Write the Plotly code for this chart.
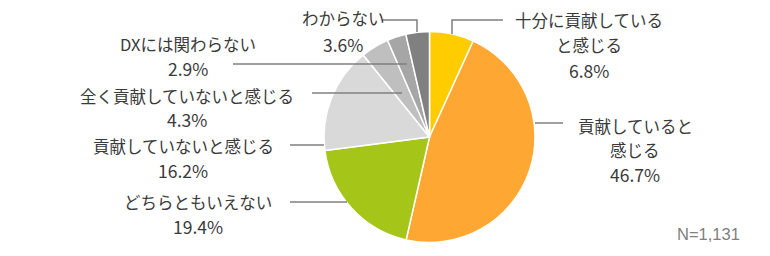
import plotly.graph_objects as go

W, H = 770, 256

categories = ["十分に貢献していると感じる", "貢献していると感じる", "どちらともいえない",
              "貢献していないと感じる", "全く貢献していないと感じる", "DXには関わらない", "わからない"]
values = [6.8, 46.7, 19.4, 16.2, 4.3, 2.9, 3.6]
colors = ["#FFCC00", "#FFA733", "#A5C618", "#D9D9D9", "#BFBFBF", "#A6A6A6", "#808080"]

# label lines (text split as in the reference)
label_lines = [
    ["十分に貢献している", "と感じる", "6.8%"],
    ["貢献していると", "感じる", "46.7%"],
    ["どちらともいえない", "19.4%"],
    ["貢献していないと感じる", "16.2%"],
    ["全く貢献していないと感じる", "4.3%"],
    ["DXには関わらない", "2.9%"],
    ["わからない", "3.6%"],
]
# label centres (px) and first-line y, line spacing
label_pos = [(589, 20), (635, 126), (198, 202), (183, 146), (187, 96), (188, 44), (343, 18)]
line_gap = [25, 24, 24, 24, 23, 24, 26]
# leader lines (px polylines)
leaders = [
    [(503, 20), (452, 20), (452, 34)],
    [(563, 123), (535, 123)],
    [(290, 202), (347, 202)],
    [(290, 145), (324, 145)],
    [(312, 93), (402, 93)],
    [(233, 64), (407, 64)],
    [(382, 20), (417, 20), (417, 32)],
]

cx, cy, r = 429.5, 137, 105.5

def px(x):
    return x / W

def py(y):
    return 1 - y / H

fig = go.Figure(go.Pie(
    labels=categories, values=values, sort=False, direction="clockwise", rotation=0,
    marker=dict(colors=colors, line=dict(color="white", width=1.5)),
    textinfo="none", hoverinfo="none", showlegend=False,
    domain=dict(x=[px(cx - r), px(cx + r)], y=[py(cy + r), py(cy - r)]),
))

shapes = []
for pts in leaders:
    path = "M " + " L ".join(f"{px(x)},{py(y)}" for x, y in pts)
    shapes.append(dict(type="path", xref="paper", yref="paper", path=path,
                       line=dict(color="#7F7F7F", width=1.5)))

annotations = []
for lines, (lx, ly), gap in zip(label_lines, label_pos, line_gap):
    for i, t in enumerate(lines):
        is_pct = t.endswith("%")
        annotations.append(dict(x=px(lx), y=py(ly + i * gap), xref="paper", yref="paper",
                                text=t, showarrow=False, xanchor="center", yanchor="middle",
                                font=dict(family="Noto Sans CJK JP", size=17.5 if is_pct else 16.5,
                                          color="#3A3A3A")))
annotations.append(dict(x=px(742), y=py(234), xref="paper", yref="paper", text="N=1,131",
                        showarrow=False, xanchor="right", yanchor="middle",
                        font=dict(family="Liberation Sans, Arial", size=16.5, color="#808080")))

fig.update_layout(width=W, height=H, margin=dict(l=0, r=0, t=0, b=0),
                  paper_bgcolor="white", plot_bgcolor="white",
                  shapes=shapes, annotations=annotations)

fig.write_html("out.html")
